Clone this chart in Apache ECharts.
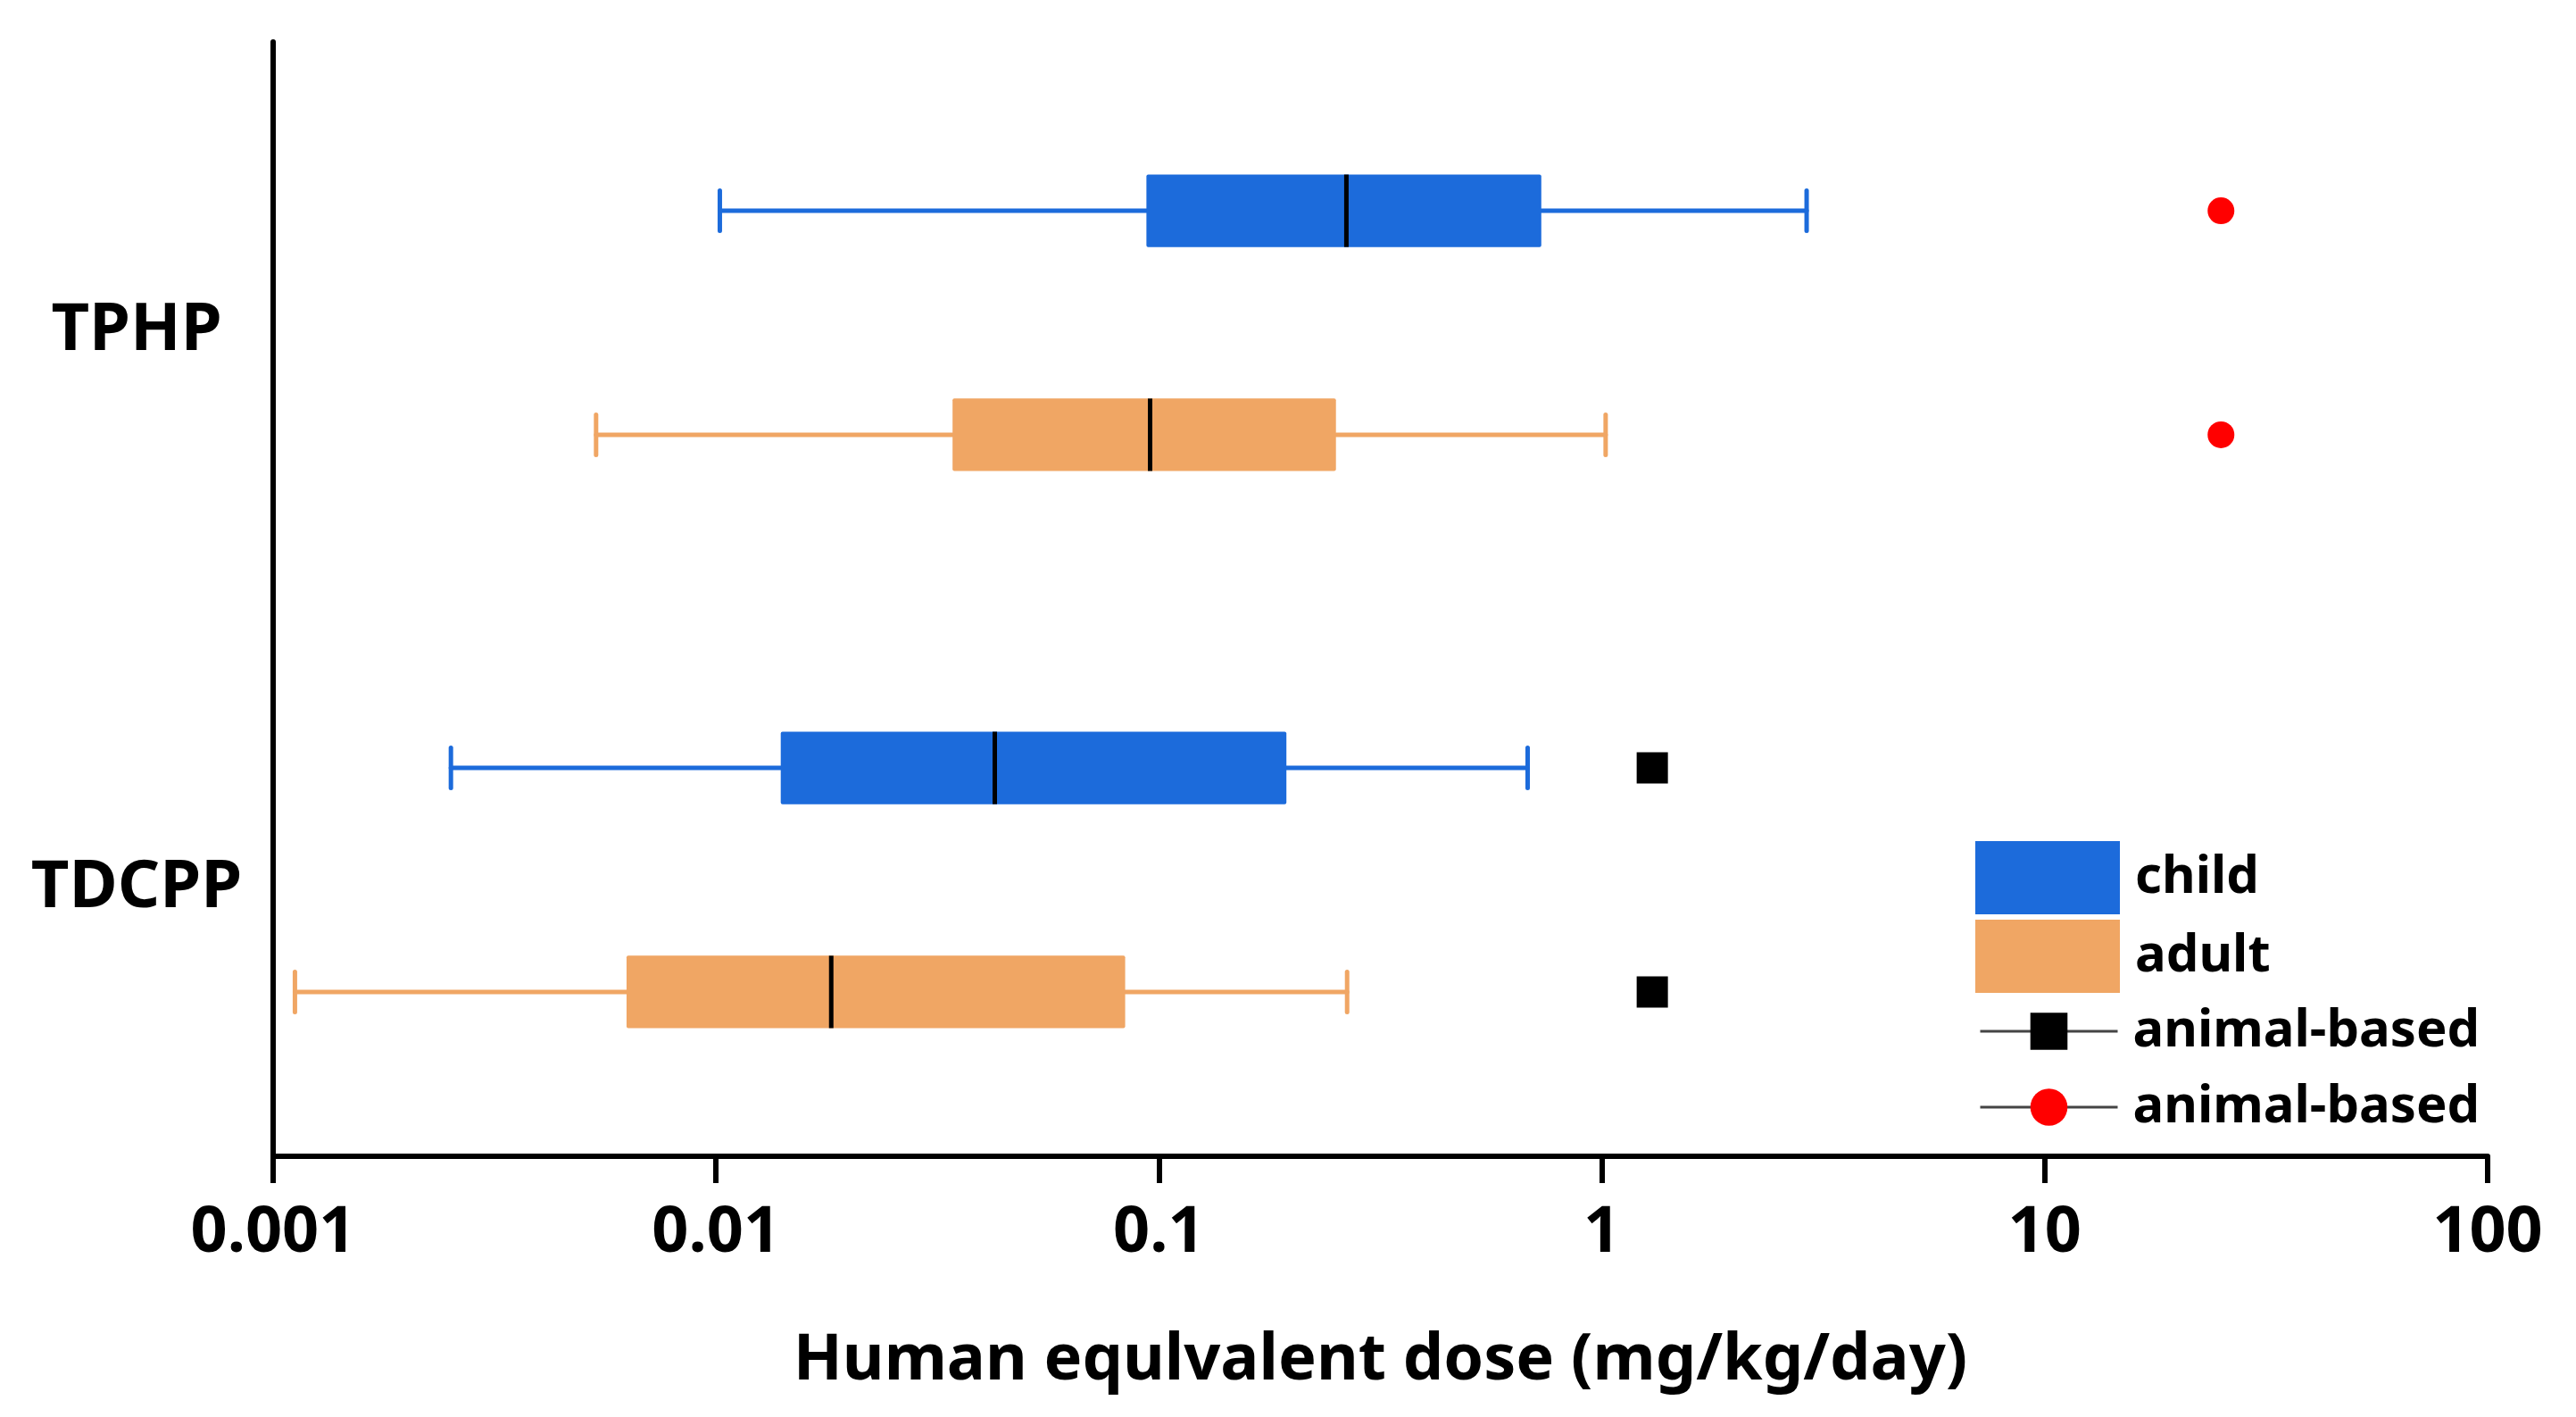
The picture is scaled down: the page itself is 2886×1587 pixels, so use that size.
<!DOCTYPE html>
<html><head><meta charset="utf-8">
<script src="https://cdn.jsdelivr.net/npm/echarts@6/dist/echarts.min.js"></script>
<style>html,body{margin:0;padding:0;background:#fff}#c{width:2886px;height:1587px}</style>
</head><body><div id="c"></div>
<script>
const categories = ['TPHP', 'TDCPP'];
const xTickLabels = ['0.001', '0.01', '0.1', '1', '10', '100'];
// [min, Q1, median, Q3, max] for each category
const childStats = [
  [0.0102, 0.0937, 0.265, 0.73, 2.90],
  [0.00252, 0.0140, 0.0426, 0.194, 0.68]
];
const adultStats = [
  [0.00536, 0.0342, 0.0955, 0.251, 1.02],
  [0.00112, 0.00628, 0.0182, 0.0839, 0.266]
];
// animal-based values: [child row, adult row]
const animalSquareTDCPP = [1.30, 1.30];
const animalCircleTPHP = [25, 25];

const BLUE = '#1C6BDB', ORANGE = '#F0A664';
const FONT = 'Noto Sans';
const CHILD_OFF = -0.197, ADULT_OFF = 0.205, BOX_H = 0.13, CAP_H = 0.072;

function makeBox(offset, color) {
  return function (params, api) {
    const yc = api.value(0) + 0.5 + offset;
    const vals = [api.value(1), api.value(2), api.value(3), api.value(4), api.value(5)];
    const top = api.coord([vals[2], yc - BOX_H / 2])[1];
    const bot = api.coord([vals[2], yc + BOX_H / 2])[1];
    const ctop = api.coord([vals[2], yc - CAP_H / 2])[1];
    const cbot = api.coord([vals[2], yc + CAP_H / 2])[1];
    const y = api.coord([vals[2], yc])[1];
    const xs = vals.map(v => api.coord([v, yc])[0]);
    const ls = {stroke: color, lineWidth: 5, lineCap: 'round'};
    return {type: 'group', children: [
      {type: 'line', shape: {x1: xs[0], y1: y, x2: xs[1], y2: y}, style: ls},
      {type: 'line', shape: {x1: xs[3], y1: y, x2: xs[4], y2: y}, style: ls},
      {type: 'line', shape: {x1: xs[0], y1: ctop, x2: xs[0], y2: cbot}, style: ls},
      {type: 'line', shape: {x1: xs[4], y1: ctop, x2: xs[4], y2: cbot}, style: ls},
      {type: 'rect', shape: {x: xs[1], y: top, width: xs[3] - xs[1], height: bot - top, r: 2}, style: {fill: color}},
      {type: 'line', shape: {x1: xs[2], y1: top, x2: xs[2], y2: bot}, style: {stroke: '#000', lineWidth: 5}}
    ]};
  };
}

const tdIdx = categories.indexOf('TDCPP');
const tpIdx = categories.indexOf('TPHP');

const textBase = {fontFamily: FONT, fontWeight: 'bold', color: '#000'};

const option = {
  backgroundColor: '#fff',
  animation: false,
  grid: {left: 306, right: 99, top: 47, bottom: 292},
  xAxis: {
    type: 'log', logBase: 10, min: 0.001, max: 100,
    name: 'Human equlvalent dose (mg/kg/day)', nameLocation: 'middle', nameGap: 193,
    nameTextStyle: Object.assign({fontSize: 72}, textBase),
    axisLine: {onZero: false, lineStyle: {color: '#000', width: 6}},
    axisTick: {show: true, length: 30, lineStyle: {color: '#000', width: 6}},
    minorTick: {show: false},
    splitLine: {show: false},
    axisLabel: Object.assign({fontSize: 72, margin: 50,
      formatter: v => xTickLabels[Math.round(Math.log10(v)) + 3]}, textBase)
  },
  yAxis: [
    {
      type: 'category', data: categories, inverse: true,
      axisLine: {onZero: false, lineStyle: {color: '#000', width: 6}},
      axisTick: {show: false},
      axisLabel: {
        margin: 153, align: 'center',
        formatter: v => '{c|' + v + '}',
        rich: {c: Object.assign({fontSize: 74, padding: [24, 0, 0, 0], align: 'center'}, textBase)}
      }
    },
    {type: 'value', min: 0, max: 2, inverse: true, show: false}
  ],
  legend: [
    {
      data: [{name: 'child', icon: 'rect'}, {name: 'adult', icon: 'rect'}],
      orient: 'vertical', left: 2208, top: 937, itemWidth: 162, itemHeight: 82, itemGap: 6,
      selectedMode: false,
      textStyle: Object.assign({fontSize: 58, padding: [0, 0, 0, 12]}, textBase)
    },
    {
      data: ['animal-based (TDCPP)', 'animal-based (TPHP)'],
      orient: 'vertical', left: 2212, top: 1121, itemWidth: 154, itemHeight: 52, itemGap: 27,
      selectedMode: false, formatter: () => 'animal-based',
      lineStyle: {color: '#444', width: 3, opacity: 1},
      textStyle: Object.assign({fontSize: 58, padding: [0, 0, 0, 12]}, textBase)
    }
  ],
  series: [
    {
      name: 'child', type: 'custom', xAxisIndex: 0, yAxisIndex: 1,
      itemStyle: {color: BLUE},
      encode: {x: [1, 2, 3, 4, 5], y: 0},
      data: childStats.map((s, i) => [i].concat(s)),
      renderItem: makeBox(CHILD_OFF, BLUE)
    },
    {
      name: 'adult', type: 'custom', xAxisIndex: 0, yAxisIndex: 1,
      itemStyle: {color: ORANGE},
      encode: {x: [1, 2, 3, 4, 5], y: 0},
      data: adultStats.map((s, i) => [i].concat(s)),
      renderItem: makeBox(ADULT_OFF, ORANGE)
    },
    {
      name: 'animal-based (TDCPP)', type: 'line', yAxisIndex: 1, z: 5,
      symbol: 'rect', symbolSize: 35, showSymbol: true,
      itemStyle: {color: '#000'}, lineStyle: {opacity: 0},
      data: [[animalSquareTDCPP[0], tdIdx + 0.5 + CHILD_OFF], [animalSquareTDCPP[1], tdIdx + 0.5 + ADULT_OFF]]
    },
    {
      name: 'animal-based (TPHP)', type: 'line', yAxisIndex: 1, z: 5,
      symbol: 'circle', symbolSize: 30, showSymbol: true,
      itemStyle: {color: '#FF0000'}, lineStyle: {opacity: 0},
      data: [[animalCircleTPHP[0], tpIdx + 0.5 + CHILD_OFF], [animalCircleTPHP[1], tpIdx + 0.5 + ADULT_OFF]]
    }
  ]
};
const chart = echarts.init(document.getElementById('c'));
chart.setOption(option);
</script></body></html>
